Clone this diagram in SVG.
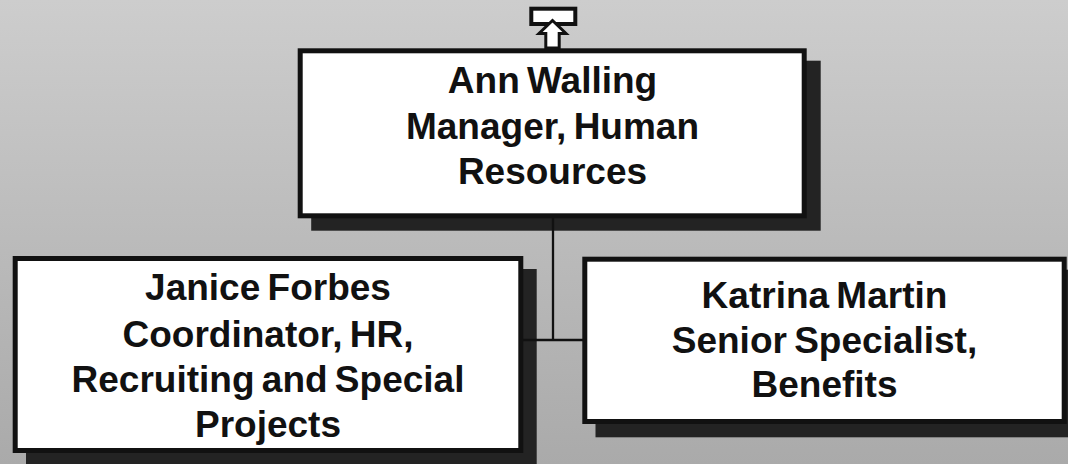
<svg xmlns="http://www.w3.org/2000/svg" width="1068" height="464" viewBox="0 0 1068 464">
  <defs>
    <linearGradient id="bg" x1="0" y1="0" x2="0" y2="1">
      <stop offset="0" stop-color="#cdcdcd"/>
      <stop offset="1" stop-color="#aaaaaa"/>
    </linearGradient>
  </defs>
  <style>
    .shadow { fill: #232323; }
    .box { fill: #ffffff; stroke: #111111; stroke-width: 5; }
    .label { font-family: "Liberation Sans", Arial, sans-serif; font-weight: bold; font-size: 37px; word-spacing: -3px; fill: #111111; text-anchor: middle; }
    .conn { stroke: #111111; stroke-width: 2.3; fill: none; }
    .icon { fill: #ffffff; stroke: #111111; }
  </style>
  <rect x="0" y="0" width="1068" height="464" fill="url(#bg)"/>

  <g id="icon-up">
    <rect class="icon" x="531.3" y="8.7" width="44" height="15.3" stroke-width="4"/>
    <polygon class="icon" stroke-width="3" points="552.5,20.5 566,33.5 559.2,33.5 559.2,48 545.8,48 545.8,33.5 539,33.5"/>
  </g>

  <g id="node-ann-walling">
    <rect class="shadow" x="311.2" y="60.7" width="509.5" height="170"/>
    <rect class="box" x="300.2" y="50.8" width="504" height="165"/>
    <text class="label" x="552.5" y="93">Ann Walling</text>
    <text class="label" x="552.5" y="139">Manager, Human</text>
    <text class="label" x="552.5" y="184">Resources</text>
  </g>

  <g id="node-janice-forbes">
    <rect class="shadow" x="26" y="269" width="510.7" height="200"/>
    <rect class="box" x="15.2" y="258.5" width="505.6" height="192"/>
    <text class="label" x="268" y="300">Janice Forbes</text>
    <text class="label" x="268" y="347">Coordinator, HR,</text>
    <text class="label" x="268" y="392">Recruiting and Special</text>
    <text class="label" x="268" y="437">Projects</text>
  </g>

  <g id="node-katrina-martin">
    <rect class="shadow" x="595.5" y="269.7" width="490" height="167.6"/>
    <rect class="box" x="584.8" y="259.2" width="479.4" height="162.3"/>
    <text class="label" x="824.5" y="308">Katrina Martin</text>
    <text class="label" x="824.5" y="353">Senior Specialist,</text>
    <text class="label" x="824.5" y="397">Benefits</text>
  </g>

  <g id="connectors">
    <line class="conn" x1="553" y1="218" x2="553" y2="341"/>
    <line class="conn" x1="523" y1="340" x2="583" y2="340"/>
  </g>
</svg>
